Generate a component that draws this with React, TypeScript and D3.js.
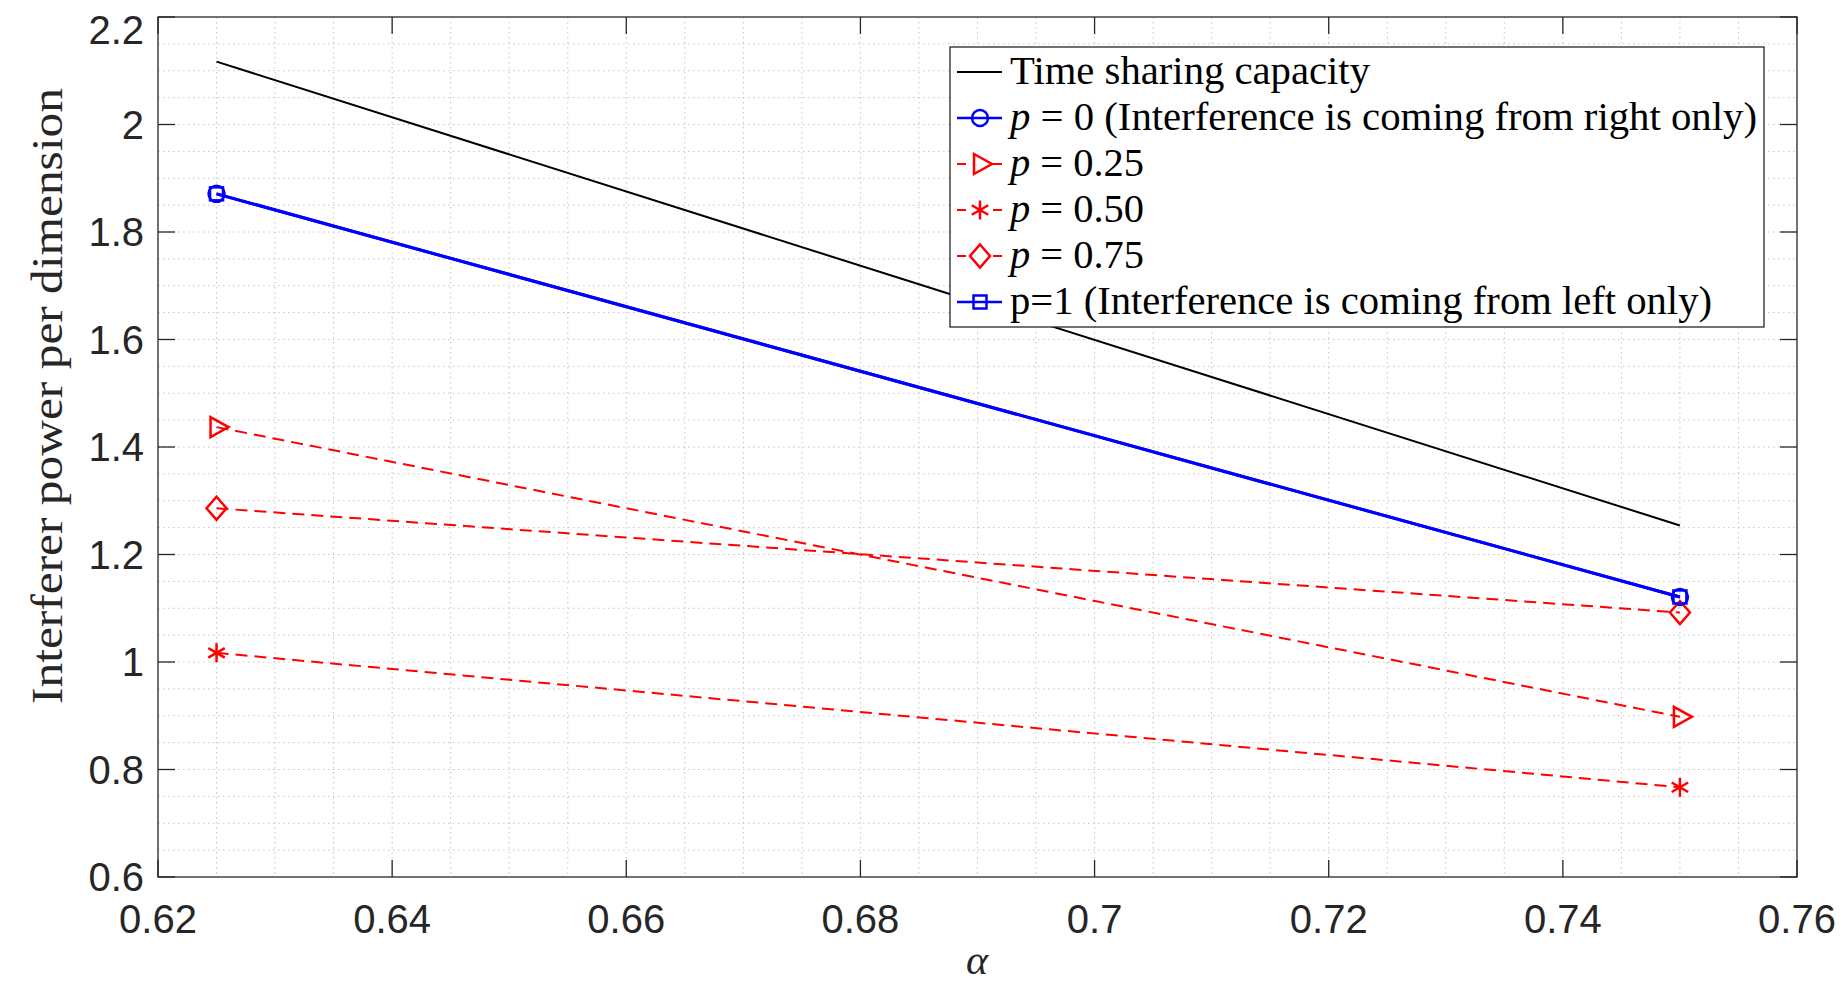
import React from 'react';
import * as d3 from 'd3';

// alpha values on the x axis
const alpha = [0.625, 0.75];

// interferer power per dimension for each curve
const timeSharing = [2.117, 1.254];
const pZero = [1.871, 1.121];
const pQuarter = [1.437, 0.898];
const pHalf = [1.017, 0.767];
const pThreeQuarter = [1.286, 1.092];
const pOne = [1.871, 1.121];

const xTicks = [0.62, 0.64, 0.66, 0.68, 0.7, 0.72, 0.74, 0.76];
const yTicks = [0.6, 0.8, 1, 1.2, 1.4, 1.6, 1.8, 2, 2.2];

const W = 1840;
const H = 989;
const margin = { left: 158, right: 43, top: 17, bottom: 112 };

const axisColor = '#262626';
const serif = '"Liberation Serif", "Times New Roman", serif';
const sans = '"Liberation Sans", Arial, sans-serif';

type Marker = 'none' | 'circle' | 'triangle' | 'star' | 'diamond' | 'square';

const series: {
  key: string;
  values: number[];
  color: string;
  width: number;
  dash?: string;
  marker: Marker;
  label: React.ReactNode;
  labelLength: number;
}[] = [
  {
    key: 'ts', values: timeSharing, color: '#000000', width: 2, marker: 'none',
    label: 'Time sharing capacity', labelLength: 360,
  },
  {
    key: 'p0', values: pZero, color: '#0000ff', width: 3, marker: 'circle',
    label: <><tspan fontStyle="italic">p</tspan> = 0 (Interference is coming from right only)</>,
    labelLength: 747,
  },
  {
    key: 'p25', values: pQuarter, color: '#ff0000', width: 2, dash: '12,7', marker: 'triangle',
    label: <><tspan fontStyle="italic">p</tspan> = 0.25</>, labelLength: 134,
  },
  {
    key: 'p50', values: pHalf, color: '#ff0000', width: 2, dash: '12,7', marker: 'star',
    label: <><tspan fontStyle="italic">p</tspan> = 0.50</>, labelLength: 134,
  },
  {
    key: 'p75', values: pThreeQuarter, color: '#ff0000', width: 2, dash: '12,7', marker: 'diamond',
    label: <><tspan fontStyle="italic">p</tspan> = 0.75</>, labelLength: 134,
  },
  {
    key: 'p1', values: pOne, color: '#0000ff', width: 3, marker: 'square',
    label: 'p=1 (Interference is coming from left only)', labelLength: 702,
  },
];

function MarkerShape({ type, x, y, color }: { type: Marker; x: number; y: number; color: string }) {
  const common = { fill: 'none', stroke: color, strokeWidth: 2.5 };
  switch (type) {
    case 'circle':
      return <circle cx={x} cy={y} r={8} {...common} />;
    case 'square':
      return <rect x={x - 6.5} y={y - 6.5} width={13} height={13} {...common} />;
    case 'triangle':
      return <path d={`M${x - 6},${y - 10}L${x - 6},${y + 10}L${x + 12},${y}Z`} {...common} />;
    case 'diamond':
      return <path d={`M${x},${y - 11.5}L${x + 10},${y}L${x},${y + 11.5}L${x - 10},${y}Z`} {...common} />;
    case 'star': {
      const r = 9.5;
      const dx = r * Math.cos(Math.PI / 6);
      const dy = r * Math.sin(Math.PI / 6);
      return (
        <path
          d={`M${x},${y - r}L${x},${y + r}M${x - dx},${y - dy}L${x + dx},${y + dy}M${x - dx},${y + dy}L${x + dx},${y - dy}`}
          {...common}
        />
      );
    }
    default:
      return null;
  }
}

export default function App() {
  const x = d3.scaleLinear().domain([0.62, 0.76]).range([margin.left, W - margin.right]);
  const y = d3.scaleLinear().domain([0.6, 2.2]).range([H - margin.bottom, margin.top]);

  const x0 = x.range()[0], x1 = x.range()[1];
  const y0 = y.range()[0], y1 = y.range()[1];

  // grid lines every 0.005 on x and 0.05 on y
  const xGrid = d3.range(0.62, 0.7601, 0.005).map(v => +v.toFixed(3));
  const yGrid = d3.range(0.6, 2.2001, 0.05).map(v => +v.toFixed(2));

  const line = d3.line<number>()
    .x((_, i) => x(alpha[i]))
    .y(d => y(d));

  const tickLen = 17;

  // legend geometry
  const lg = { x: 950, y: 47, w: 814, h: 280, rowY: 72, rowStep: 46 };

  return (
    <svg width={W} height={H} style={{ position: 'absolute', left: 0, top: 0, background: '#fff' }}>
      <rect x={0} y={0} width={W} height={H} fill="#ffffff" />

      {/* grid */}
      <g stroke="#c4c4c4" strokeWidth={1} strokeDasharray="1.5,3.5">
        {xGrid.slice(1, -1).map(v => (
          <line key={`gx${v}`} x1={x(v)} x2={x(v)} y1={y1} y2={y0} />
        ))}
        {yGrid.slice(1, -1).map(v => (
          <line key={`gy${v}`} x1={x0} x2={x1} y1={y(v)} y2={y(v)} />
        ))}
      </g>

      {/* curves */}
      {series.map(s => (
        <path
          key={s.key}
          d={line(s.values) ?? ''}
          fill="none"
          stroke={s.color}
          strokeWidth={s.width}
          strokeDasharray={s.dash}
        />
      ))}
      {series.map(s => s.values.map((v, i) => (
        <MarkerShape key={`${s.key}${i}`} type={s.marker} x={x(alpha[i])} y={y(v)} color={s.color} />
      )))}

      {/* axes box and ticks */}
      <g stroke={axisColor} strokeWidth={1.3}>
        <rect x={x0} y={y1} width={x1 - x0} height={y0 - y1} fill="none" />
        {xTicks.map(v => (
          <g key={`tx${v}`}>
            <line x1={x(v)} x2={x(v)} y1={y0} y2={y0 - tickLen} />
            <line x1={x(v)} x2={x(v)} y1={y1} y2={y1 + tickLen} />
          </g>
        ))}
        {yTicks.map(v => (
          <g key={`ty${v}`}>
            <line x1={x0} x2={x0 + tickLen} y1={y(v)} y2={y(v)} />
            <line x1={x1} x2={x1 - tickLen} y1={y(v)} y2={y(v)} />
          </g>
        ))}
      </g>

      {/* tick labels */}
      <g fontFamily={sans} fontSize={40} fill={axisColor}>
        {xTicks.map(v => (
          <text key={`lx${v}`} x={x(v)} y={y0 + 56} textAnchor="middle">{String(v)}</text>
        ))}
        {yTicks.map(v => (
          <text key={`ly${v}`} x={x0 - 14} y={Math.max(y(v), 30) + 14} textAnchor="end">{String(v)}</text>
        ))}
      </g>

      {/* axis titles */}
      <text
        x={977}
        y={974}
        fontFamily={serif}
        fontStyle="italic"
        fontSize={42}
        textAnchor="middle"
        fill={axisColor}
      >α</text>
      <text
        transform="translate(62,396) rotate(-90)"
        fontFamily={serif}
        fontSize={44}
        textAnchor="middle"
        textLength={616}
        lengthAdjust="spacingAndGlyphs"
        fill={axisColor}
      >Interferer power per dimension</text>

      {/* legend */}
      <g>
        <rect x={lg.x} y={lg.y} width={lg.w} height={lg.h} fill="#ffffff" stroke={axisColor} strokeWidth={1.3} />
        {series.map((s, i) => {
          const cy = lg.rowY + i * lg.rowStep;
          return (
            <g key={`lg${s.key}`}>
              {s.dash ? (
                <>
                  <line x1={957} x2={966} y1={cy} y2={cy} stroke={s.color} strokeWidth={2} />
                  <line x1={993} x2={1002} y1={cy} y2={cy} stroke={s.color} strokeWidth={2} />
                </>
              ) : (
                <line x1={957} x2={1002} y1={cy} y2={cy} stroke={s.color} strokeWidth={s.width === 3 ? 2.5 : 2} />
              )}
              <MarkerShape type={s.marker} x={980} y={cy} color={s.color} />
              <text
                x={1010}
                y={cy + 12}
                fontFamily={serif}
                fontSize={40}
                fill="#000000"
                textLength={s.labelLength}
                lengthAdjust="spacingAndGlyphs"
              >{s.label}</text>
            </g>
          );
        })}
      </g>
    </svg>
  );
}
